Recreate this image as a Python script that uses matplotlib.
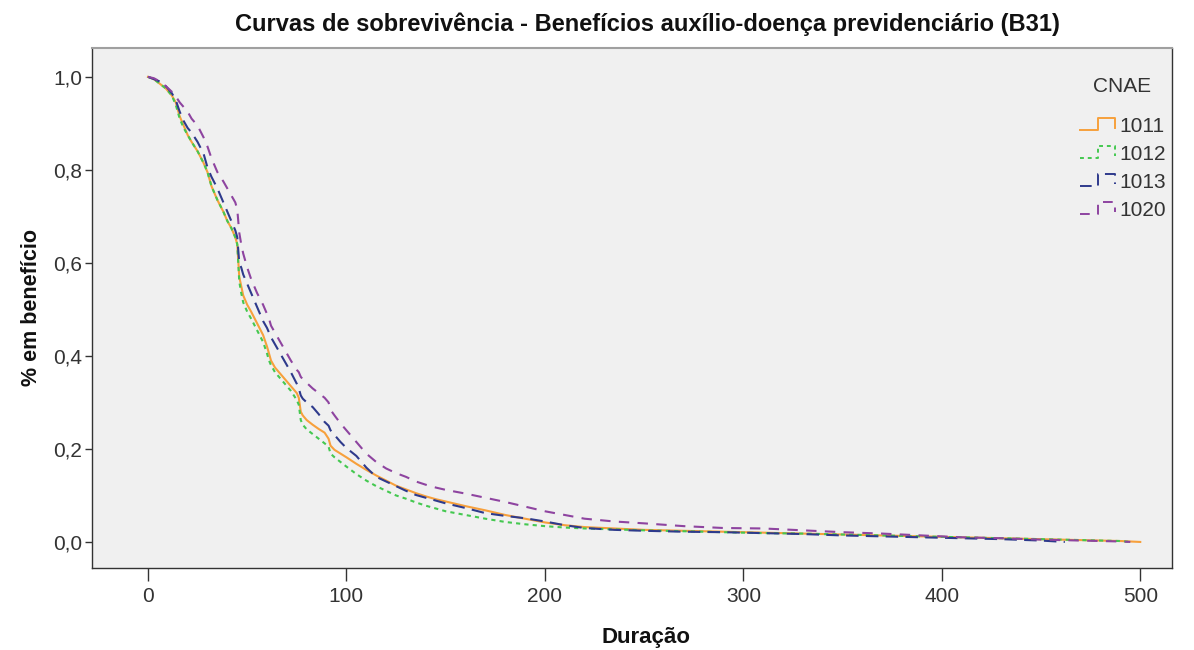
import matplotlib
matplotlib.use("Agg")
import matplotlib.pyplot as plt

plt.rcParams['font.family'] = ['Liberation Sans', 'DejaVu Sans']

title = "Curvas de sobrevivência - Benefícios auxílio-doença previdenciário (B31)"
xlabel = "Duração"
ylabel = "% em benefício"
legend_title = "CNAE"
groups = ["1011", "1012", "1013", "1020"]

t_common = [0, 3, 6, 9, 12, 14, 16, 18, 20, 22, 25, 28, 30, 32, 35, 38, 40, 42, 44, 45,
            46, 47, 48, 50, 52, 55, 58, 60, 61, 62, 64, 66, 68, 70, 72, 75, 76, 77, 78, 80,
            83, 86, 89, 91, 92, 94, 97, 100, 105, 110, 115, 120, 125, 130, 135, 140, 145,
            150, 160, 170, 180, 190, 200, 210, 220, 235, 250, 270, 290, 310, 330, 350, 370,
            390, 410, 430, 450]

s_1011 = [1.0, 0.995, 0.985, 0.975, 0.96, 0.945, 0.915, 0.895, 0.875, 0.86, 0.84, 0.815,
          0.795, 0.765, 0.735, 0.71, 0.69, 0.675, 0.655, 0.64, 0.57, 0.55, 0.53, 0.51, 0.495,
          0.47, 0.445, 0.42, 0.405, 0.39, 0.375, 0.365, 0.355, 0.345, 0.335, 0.32, 0.31, 0.28,
          0.272, 0.262, 0.252, 0.243, 0.235, 0.222, 0.207, 0.198, 0.19, 0.182, 0.168, 0.155,
          0.143, 0.132, 0.121, 0.113, 0.105, 0.098, 0.092, 0.087, 0.077, 0.068, 0.058, 0.05,
          0.042, 0.036, 0.032, 0.029, 0.026, 0.024, 0.022, 0.02, 0.018, 0.016, 0.014, 0.012,
          0.01, 0.008, 0.006]
t_1011_tail = [470, 490, 500]
s_1011_tail = [0.004, 0.002, 0.0]

s_1012 = [1.0, 0.995, 0.985, 0.975, 0.96, 0.94, 0.91, 0.89, 0.875, 0.86, 0.84, 0.815,
          0.795, 0.765, 0.735, 0.71, 0.69, 0.675, 0.655, 0.64, 0.56, 0.535, 0.515, 0.495,
          0.48, 0.455, 0.43, 0.405, 0.39, 0.38, 0.365, 0.355, 0.345, 0.335, 0.325, 0.305,
          0.295, 0.262, 0.252, 0.242, 0.232, 0.222, 0.212, 0.205, 0.19, 0.182, 0.172, 0.162,
          0.146, 0.132, 0.12, 0.11, 0.1, 0.093, 0.085, 0.078, 0.072, 0.066, 0.058, 0.05,
          0.043, 0.038, 0.034, 0.031, 0.029, 0.027, 0.025, 0.023, 0.021, 0.019, 0.018, 0.016,
          0.014, 0.012, 0.01, 0.008, 0.006]
t_1012_tail = [470, 490, 495]
s_1012_tail = [0.004, 0.002, 0.0]

s_1013 = [1.0, 0.995, 0.99, 0.98, 0.965, 0.95, 0.925, 0.905, 0.89, 0.88, 0.86, 0.835,
          0.805, 0.785, 0.76, 0.73, 0.71, 0.69, 0.67, 0.655, 0.60, 0.59, 0.575, 0.555, 0.535,
          0.505, 0.475, 0.46, 0.45, 0.44, 0.425, 0.41, 0.395, 0.38, 0.365, 0.34, 0.33, 0.315,
          0.308, 0.3, 0.29, 0.275, 0.258, 0.25, 0.24, 0.23, 0.215, 0.202, 0.185, 0.16, 0.14,
          0.13, 0.12, 0.11, 0.101, 0.095, 0.089, 0.083, 0.073, 0.062, 0.056, 0.051, 0.044,
          0.036, 0.03, 0.026, 0.024, 0.022, 0.021, 0.019, 0.017, 0.014, 0.012, 0.01, 0.008,
          0.006, 0.003]
t_1013_tail = [462]
s_1013_tail = [0.0]

s_1020 = [1.0, 0.997, 0.99, 0.98, 0.968, 0.958, 0.945, 0.935, 0.925, 0.91, 0.895, 0.87,
          0.85, 0.825, 0.795, 0.775, 0.76, 0.745, 0.73, 0.715, 0.665, 0.64, 0.62, 0.59, 0.565,
          0.535, 0.51, 0.49, 0.48, 0.465, 0.45, 0.435, 0.42, 0.405, 0.39, 0.37, 0.365, 0.355,
          0.35, 0.342, 0.33, 0.32, 0.31, 0.3, 0.284, 0.272, 0.255, 0.24, 0.215, 0.19, 0.172,
          0.158, 0.148, 0.14, 0.13, 0.123, 0.117, 0.112, 0.104, 0.095, 0.086, 0.076, 0.066,
          0.058, 0.05, 0.044, 0.04, 0.034, 0.03, 0.029, 0.025, 0.021, 0.018, 0.014, 0.01,
          0.008, 0.005]
t_1020_tail = [470, 490, 495]
s_1020_tail = [0.003, 0.001, 0.0]

series = [
    (t_common + t_1011_tail, s_1011 + s_1011_tail),
    (t_common + t_1012_tail, s_1012 + s_1012_tail),
    (t_common + t_1013_tail, s_1013 + s_1013_tail),
    (t_common + t_1020_tail, s_1020 + s_1020_tail),
]
colors = ["#F7A03C", "#44C850", "#2E3A8C", "#8E44A0"]
styles = ["-", (0, (2.0, 2.0)), (0, (6, 3.5)), (0, (5, 4))]
widths = [1.5, 1.5, 1.5, 1.5]

fig = plt.figure(figsize=(11.94, 6.5), dpi=100)
ax = fig.add_axes([92/1194, 1-568/650, (1172-92)/1194, (568-48)/650])
ax.set_facecolor("#F0F0F0")

for (t, s), c, ls, lw in zip(series, colors, styles, widths):
    ax.plot(t, s, color=c, linestyle=ls, lw=lw)

ax.set_xlim(-28.2, 516)
ax.set_ylim(-0.056, 1.062)
ax.set_xticks([0, 100, 200, 300, 400, 500])
ax.set_yticks([0.0, 0.2, 0.4, 0.6, 0.8, 1.0])
ax.set_yticklabels(["0,0", "0,2", "0,4", "0,6", "0,8", "1,0"])
ax.tick_params(axis="x", length=9, width=1.0, color="#333333", labelsize=15,
               labelcolor="#333333", pad=5)
ax.tick_params(axis="y", length=5, width=1.0, color="#333333", labelsize=15,
               labelcolor="#333333", pad=2)
for side in ["left", "bottom", "right"]:
    ax.spines[side].set_color("#333333")
    ax.spines[side].set_linewidth(1.0)
ax.spines["top"].set_color("#A0A0A0")
ax.spines["top"].set_linewidth(1.5)

fig.text(647/1194, 1-24/650, title, ha="center", va="center", fontsize=17,
         fontweight="bold", color="#111111")
fig.text(646/1194, 1-637/650, xlabel, ha="center", va="center", fontsize=16,
         fontweight="bold", color="#111111")
ax.set_ylabel(ylabel, fontsize=15.5, fontweight="bold", color="#111111", labelpad=8)

# legend (manual, SPSS-style step handles)
def fx(px):
    return (px - 92) / (1172 - 92)

def fy(py):
    return (568 - py) / (568 - 48)

ax.text(fx(1122), fy(87), legend_title, transform=ax.transAxes, ha="center",
        va="center", fontsize=15, color="#333333")
rows = [127, 155, 183, 211]
for label, c, ls, py in zip(groups, colors, styles, rows):
    xs = [fx(1080), fx(1098), fx(1098), fx(1115), fx(1115)]
    ys = [fy(py + 3), fy(py + 3), fy(py - 9), fy(py - 9), fy(py + 1)]
    ax.plot(xs, ys, transform=ax.transAxes, color=c, linestyle=ls, lw=1.4,
            clip_on=False)
    ax.text(fx(1119), fy(py), label, transform=ax.transAxes, ha="left",
            va="center", fontsize=15, color="#333333")

fig.savefig("out.png", dpi=100, facecolor="white")
